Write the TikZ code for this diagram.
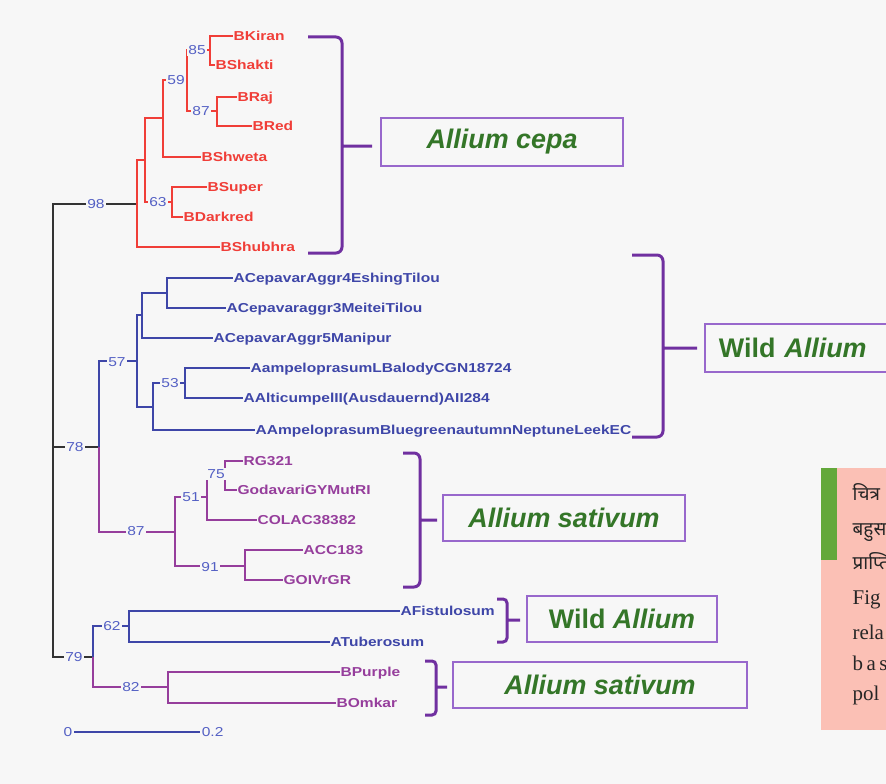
\documentclass[tikz,border=0pt]{standalone}
\usepackage{fontspec}
\setmainfont{Liberation Sans}
\newfontfamily\lblfont[FakeStretch=1.2]{Liberation Sans}
\newfontfamily\capdeva[Script=Devanagari]{Noto Sans}
\newfontfamily\capfont{Liberation Serif}
\usetikzlibrary{calc}
\definecolor{bgc}{RGB}{247,247,247}
\definecolor{redc}{RGB}{240,62,56}
\definecolor{bluec}{RGB}{62,70,168}
\definecolor{purc}{RGB}{150,62,156}
\definecolor{bootc}{RGB}{84,96,196}
\definecolor{bracec}{RGB}{112,48,160}
\definecolor{boxc}{RGB}{152,104,204}
\definecolor{grpc}{RGB}{52,118,40}
\definecolor{pinkc}{RGB}{251,192,181}
\definecolor{barc}{RGB}{99,168,59}
\tikzset{
  leaf/.style={anchor=west,inner sep=0pt,text height=9.3bp,text depth=0bp,
    font=\lblfont\bfseries\fontsize{13}{13}\selectfont},
  boot/.style={fill=bgc,inner sep=1.2pt,text height=9.3bp,text depth=0bp,text=bootc,
    font=\lblfont\fontsize{13}{13}\selectfont},
  grp/.style={draw=boxc,line width=1.8bp,text=grpc,inner sep=0pt,
    font=\bfseries\fontsize{27}{27}\selectfont},
  cladebrace/.style={draw=bracec,line width=3bp,rounded corners=6bp},
  capline/.style={anchor=base west,inner sep=0pt,text=black!85}
}
\begin{document}
\begin{tikzpicture}[x=1bp,y=-1bp,line width=1.3bp]
\useasboundingbox (0,0) rectangle (886,784);
\clip (0,0) rectangle (886,784);
\fill[bgc] (0,0) rectangle (886,784);

\node[leaf,text=redc] (kiran) at (233,36) {BKiran};
\node[leaf,text=redc] (shakti) at (215,65) {BShakti};
\node[leaf,text=redc] (raj) at (237,97) {BRaj};
\node[leaf,text=redc] (red) at (252,126) {BRed};
\node[leaf,text=redc] (shweta) at (201,157) {BShweta};
\node[leaf,text=redc] (super) at (207,187) {BSuper};
\node[leaf,text=redc] (darkred) at (183,217) {BDarkred};
\node[leaf,text=redc] (shubhra) at (220,247) {BShubhra};
\node[leaf,text=bluec] (eshing) at (233,278) {ACepavarAggr4EshingTilou};
\node[leaf,text=bluec] (meitei) at (226,308) {ACepavaraggr3MeiteiTilou};
\node[leaf,text=bluec] (manipur) at (213,338) {ACepavarAggr5Manipur};
\node[leaf,text=bluec] (balody) at (250,368) {AampeloprasumLBalodyCGN18724};
\node[leaf,text=bluec] (alticum) at (243,398) {AAlticumpelII(Ausdauernd)AII284};
\node[leaf,text=bluec] (neptune) at (255,430) {AAmpeloprasumBluegreenautumnNeptuneLeekEC};
\node[leaf,text=purc] (rg) at (243,461) {RG321};
\node[leaf,text=purc] (godavari) at (237,490) {GodavariGYMutRI};
\node[leaf,text=purc] (colac) at (257,520) {COLAC38382};
\node[leaf,text=purc] (acc) at (303,550) {ACC183};
\node[leaf,text=purc] (goi) at (283,580) {GOIVrGR};
\node[leaf,text=bluec] (fistul) at (400,611) {AFistulosum};
\node[leaf,text=bluec] (tuber) at (330,642) {ATuberosum};
\node[leaf,text=purc] (bpurple) at (340,672) {BPurple};
\node[leaf,text=purc] (omkar) at (336,703) {BOmkar};

\coordinate (root) at (53,431);
\coordinate (n85) at (210,50);
\coordinate (n87c) at (217,111);
\coordinate (n59) at (187,80);
\coordinate (nS) at (163,118);
\coordinate (n63) at (172,202);
\coordinate (nP) at (145,160);
\coordinate (n98) at (137,204);
\coordinate (n78) at (99,447);
\coordinate (n57) at (137,361);
\coordinate (nA) at (142,315);
\coordinate (nEM) at (167,293);
\coordinate (nB) at (153,407);
\coordinate (n53) at (185,383);
\coordinate (n87s) at (175,532);
\coordinate (n51) at (207,497);
\coordinate (n75) at (225,476);
\coordinate (n91) at (245,566);
\coordinate (n79) at (93,657);
\coordinate (n62) at (129,626);
\coordinate (n82) at (168,687);

\draw[black!80,line width=1.6bp] (root) |- (n98) (root) |- (n78) (root) |- (n79);
\draw[redc] (n98) |- (nP) (n98) |- (shubhra) (nP) |- (nS) (nP) |- (n63)
  (nS) |- (n59) (nS) |- (shweta) (n59) |- (n85) (n59) |- (n87c)
  (n85) |- (kiran) (n85) |- (shakti) (n87c) |- (raj) (n87c) |- (red)
  (n63) |- (super) (n63) |- (darkred);
\draw[bluec] (n78) |- (n57) (n57) |- (nA) (n57) |- (nB) (nA) |- (nEM) (nA) |- (manipur)
  (nEM) |- (eshing) (nEM) |- (meitei) (nB) |- (n53) (nB) |- (neptune)
  (n53) |- (balody) (n53) |- (alticum)
  (n79) |- (n62) (n62) |- (fistul) (n62) |- (tuber);
\draw[purc] (n78) |- (n87s) (n87s) |- (n51) (n87s) |- (n91) (n51) |- (n75) (n51) |- (colac)
  (n75) |- (rg) (n75) |- (godavari) (n91) |- (acc) (n91) |- (goi)
  (n79) |- (n82) (n82) |- (bpurple) (n82) |- (omkar);

\node[boot] (b98) at (96,204) {98};
\node[boot] (b85) at (197,50) {85};
\node[boot] (b59) at (176,80) {59};
\node[boot] (b87c) at (201,111) {87};
\node[boot] (b63) at (158,202) {63};
\node[boot] (b78) at (75,447) {78};
\node[boot] (b57) at (117,362) {57};
\node[boot] (b53) at (170,383) {53};
\node[boot] (b87s) at (136,531) {87};
\node[boot] (b51) at (191,497) {51};
\node[boot] (b75) at (216,474) {75};
\node[boot] (b91) at (210,567) {91};
\node[boot] (b79) at (74,657) {79};
\node[boot] (b62) at (112,626) {62};
\node[boot] (b82) at (131,687) {82};

\node[boot] (s0) at (68,732) {0};
\node[boot,anchor=west] (s2) at (200,732) {0.2};
\draw[bluec] (s0) -- (s2);

\node[grp,minimum width=242bp,minimum height=48bp] (cepa) at (502,142) {\itshape Allium cepa};
\node[grp,anchor=west,minimum height=48bp,text width=190bp,inner xsep=14bp,align=left] (wild1) at (704,348) {Wild \itshape Allium};
\node[grp,minimum width=242bp,minimum height=46bp] (sat1) at (564,518) {\itshape Allium sativum};
\node[grp,minimum width=190bp,minimum height=46bp] (wild2) at (622,619) {Wild \itshape Allium};
\node[grp,minimum width=294bp,minimum height=46bp] (sat2) at (600,685) {\itshape Allium sativum};

\coordinate (k1a) at (308,37); \coordinate (k1m) at (342,146); \coordinate (k1b) at (308,253);
\coordinate (k2a) at (632,255); \coordinate (k2m) at (663,348); \coordinate (k2b) at (632,437);
\coordinate (k3a) at (403,453); \coordinate (k3m) at (420,520); \coordinate (k3b) at (403,587);
\coordinate (k4a) at (497,599); \coordinate (k4m) at (507,620); \coordinate (k4b) at (497,642);
\coordinate (k5a) at (425,661); \coordinate (k5m) at (436,687); \coordinate (k5b) at (425,715);
\draw[cladebrace] (k1a) -| (k1m) |- (k1b) (k1m) -- ++(30,0);
\draw[cladebrace] (k2a) -| (k2m) |- (k2b) (k2m) -- ++(34,0);
\draw[cladebrace] (k3a) -| (k3m) |- (k3b) (k3m) -- ++(17,0);
\draw[cladebrace,rounded corners=4bp] (k4a) -| (k4m) |- (k4b) (k4m) -- ++(13,0);
\draw[cladebrace,rounded corners=4bp] (k5a) -| (k5m) |- (k5b) (k5m) -- ++(11,0);

\fill[pinkc] (821,468) rectangle (900,730);
\fill[barc] (821,468) rectangle (837,560);
\node[capline,font=\capdeva\fontsize{19}{19}\selectfont] (cap1) at (852,500) {चित्र};
\node[capline,font=\capdeva\fontsize{19}{19}\selectfont] (cap2) at (852,535) {बहुस};
\node[capline,font=\capdeva\fontsize{19}{19}\selectfont] (cap3) at (852,569) {प्राप्ति};
\node[capline,font=\capfont\fontsize{21}{21}\selectfont] (cap4) at (852,604) {Fig};
\node[capline,font=\capfont\fontsize{21}{21}\selectfont] (cap5) at (852,639) {rela};
\node[capline,font=\capfont\fontsize{21}{21}\selectfont] (cap6) at (852,670) {b\,a\,s};
\node[capline,font=\capfont\fontsize{21}{21}\selectfont] (cap7) at (852,700) {pol};
\end{tikzpicture}
\end{document}
